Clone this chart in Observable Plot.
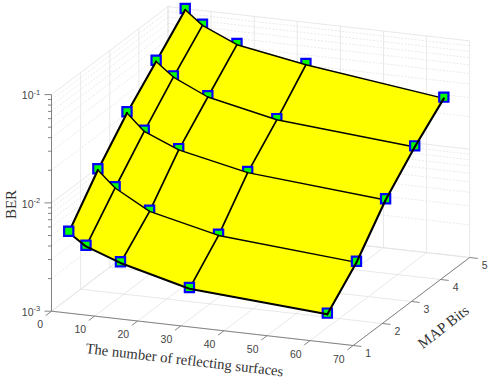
<!DOCTYPE html>
<html>
<head>
<meta charset="utf-8">
<script src="https://cdn.jsdelivr.net/npm/d3@7/dist/d3.min.js"></script>
<script src="https://cdn.jsdelivr.net/npm/@observablehq/plot@0.6/dist/plot.umd.min.js"></script>
<style>html,body{margin:0;padding:0;background:#fff}svg{display:block}</style>
</head>
<body>
<div id="chart"></div>
<script>
// Data
const surfaces = [4, 8, 16, 32, 64];
const mapBits = [1, 2, 3, 4, 5];
const berBits1 = [5.71e-3, 4.42e-3, 3.38e-3, 2.31e-3, 1.87e-3];
const berBits2 = [1.35e-2, 9.59e-3, 6.34e-3, 4.49e-3, 3.53e-3];
const berBits3 = [2.84e-2, 2.00e-2, 1.47e-2, 1.07e-2, 8.34e-3];
const berBits4 = [5.32e-2, 3.98e-2, 2.83e-2, 2.06e-2, 1.61e-2];
const berBits5 = [1.00e-1, 7.48e-2, 5.39e-2, 4.16e-2, 2.84e-2];
const berRows = [berBits1, berBits2, berBits3, berBits4, berBits5];

const xTicks = [0, 10, 20, 30, 40, 50, 60, 70];
const yTicks = [1, 2, 3, 4, 5];
const zDecades = [-3, -2, -1];
const zExponents = ["-3", "-2", "-1"];
const zMinors = [2, 3, 4, 5, 6, 7, 8, 9];

// Orthographic view of the 3-D box
const view = {ox: 51, oy: 310.7, xdx: 4.31, xdy: 0.49, ydx: 29.125, ydy: -22, zdy: -108.3};
const X = (x, y) => view.ox + x * view.xdx + (y - 1) * view.ydx;
const Y = (x, y, z) => view.oy + x * view.xdy + (y - 1) * view.ydy + (Math.log10(z) + 3) * view.zdy;
const P = (x, y, z, extra = {}) => ({px: X(x, y), py: Y(x, y, z), ...extra});
const V = (i, j, extra = {}) => P(surfaces[i], mapBits[j], berRows[j][i], extra);

const xMax = 70, yMin = 1, yMax = 5, zMin = 1e-3, zMax = 1e-1;
const minorZ = zDecades.flatMap((d) => zMinors.map((m) => m * 10 ** d)).filter((z) => z < zMax);
const majorZ = zDecades.map((d) => 10 ** d);

const seg = (a, b) => ({x1: a.px, y1: a.py, x2: b.px, y2: b.py});

// Grid
const gridMajor = [
  ...xTicks.map((x) => seg(P(x, yMin, zMin), P(x, yMax, zMin))),
  ...xTicks.map((x) => seg(P(x, yMax, zMin), P(x, yMax, zMax))),
  ...yTicks.map((y) => seg(P(0, y, zMin), P(xMax, y, zMin))),
  ...yTicks.map((y) => seg(P(0, y, zMin), P(0, y, zMax))),
  ...majorZ.map((z) => seg(P(0, yMin, z), P(0, yMax, z))),
  ...majorZ.map((z) => seg(P(0, yMax, z), P(xMax, yMax, z)))
];
const gridMinor = [
  ...minorZ.map((z) => seg(P(0, yMin, z), P(0, yMax, z))),
  ...minorZ.map((z) => seg(P(0, yMax, z), P(xMax, yMax, z)))
];

// Axes and ticks
const axes = [
  seg(P(0, yMin, zMin), P(xMax, yMin, zMin)),
  seg(P(xMax, yMin, zMin), P(xMax, yMax, zMin)),
  seg(P(0, yMin, zMin), P(0, yMin, zMax)),
  ...xTicks.map((x) => seg(P(x, yMin, zMin), P(x, yMin - 0.2, zMin))),
  ...yTicks.map((y) => seg(P(xMax, y, zMin), P(xMax + 1.9, y, zMin)))
];
const zMajorTicks = majorZ.map((z) => P(0, yMin, z));
const zMinorTicks = minorZ.map((z) => P(0, yMin, z));

const tickFont = {fontFamily: "Liberation Sans", fontSize: 10.5, fill: "#444", stroke: "none"};
const serif = {fontFamily: "Liberation Serif", fill: "#333", stroke: "none", fontSize: 15};
const marker = {x: "px", y: "py", symbol: "square", r: 5.2, fill: "#00ff00", stroke: "#0000ff", strokeWidth: 2.2};
const seg2 = {x1: "x1", y1: "y1", x2: "x2", y2: "y2"};
const meshDrop = 1.2;
const lastI = surfaces.length - 1;
const line = (data, strokeWidth) => Plot.line(data, {x: "px", y: "py", z: "id", stroke: "#000", strokeWidth, dy: meshDrop});
const range = (n) => d3.range(n);

// Painter's order, far row to near row: a row of cells covers the lower half
// of the markers behind it, and its own markers sit over the cells just painted.
const surfaceMarks = [];
surfaceMarks.push(Plot.dot(range(lastI).map((i) => V(i, 4)), marker));
for (let j = 3; j >= 0; --j) {
  const cells = range(lastI).flatMap((i) =>
    [[i, j], [i + 1, j], [i + 1, j + 1], [i, j + 1]].map(([a, b]) => V(a, b, {id: i})));
  surfaceMarks.push(Plot.line(cells, {x: "px", y: "py", z: "id", fill: "#ffff00", stroke: "#ffff00", strokeWidth: 0.5, dy: meshDrop}));
  surfaceMarks.push(line(surfaces.map((s, i) => V(i, j + 1, {id: 0})), 1.4));
  surfaceMarks.push(line(surfaces.flatMap((s, i) => i === lastI ? [] : [V(i, j, {id: i}), V(i, j + 1, {id: i})]).filter((d) => d.id !== 0), 1.7));
  surfaceMarks.push(line([V(0, j, {id: 0}), V(0, j + 1, {id: 0})], 2.1));
  if (j > 0) surfaceMarks.push(Plot.dot(range(lastI).map((i) => V(i, j)), marker));
}
// Near edges: markers first, then their edge lines, and the corner marker last.
surfaceMarks.push(Plot.dot(surfaces.slice(1).map((s, i) => V(i + 1, 0)), marker));
surfaceMarks.push(Plot.dot(mapBits.slice(1).map((b, j) => V(lastI, j + 1)), marker));
surfaceMarks.push(line(surfaces.map((s, i) => V(i, 0, {id: 0})), 2));
surfaceMarks.push(line(mapBits.map((b, j) => V(lastI, j, {id: 0})), 2.1));
surfaceMarks.push(Plot.dot([V(0, 0)], marker));

const chart = Plot.plot({
  width: 492, height: 379, margin: 0,
  x: {axis: null, domain: [0, 492], range: [0, 492]},
  y: {axis: null, domain: [0, 379], range: [0, 379]},
  style: {background: "#fff"},
  marks: [
    Plot.link(gridMinor, {...seg2, stroke: "#e4e4e4", strokeWidth: 0.8, strokeDasharray: "2,1.5"}),
    Plot.link(gridMajor, {...seg2, stroke: "#e2e2e2", strokeWidth: 0.8}),
    Plot.link(axes, {...seg2, stroke: "#777", strokeWidth: 0.9}),
    Plot.link(zMajorTicks, {x1: (d) => d.px - 7, x2: "px", y1: "py", y2: "py", stroke: "#777", strokeWidth: 0.9}),
    Plot.link(zMinorTicks, {x1: (d) => d.px - 3.5, x2: "px", y1: "py", y2: "py", stroke: "#777", strokeWidth: 0.9}),
    ...surfaceMarks,
    Plot.text(xTicks, {x: (t) => X(t, yMin), y: (t) => Y(t, yMin, zMin), text: (t) => String(t), textAnchor: "end", dx: -8.5, dy: 13.7, ...tickFont}),
    Plot.text(yTicks, {x: (t) => X(xMax, t), y: (t) => Y(xMax, t, zMin), text: (t) => String(t), dx: 15, dy: 8, ...tickFont}),
    Plot.text(zDecades, {x: () => X(0, yMin), y: (d) => Y(0, yMin, 10 ** d), text: () => "10", textAnchor: "end", dx: -18, dy: 1.5, ...tickFont}),
    Plot.text(zDecades, {x: () => X(0, yMin), y: (d) => Y(0, yMin, 10 ** d), text: (d, i) => zExponents[i], textAnchor: "start", dx: -18, dy: -2.5, ...tickFont, fontSize: 7.5}),
    Plot.text(["BER"], {x: () => 11, y: () => 204, text: (d) => d, rotate: -90, ...serif}),
    Plot.text(["The number of reflecting surfaces"], {x: () => 184, y: () => 359.5, text: (d) => d, rotate: 6.7, ...serif, fontSize: 14.7}),
    Plot.text(["MAP Bits"], {x: () => 443, y: () => 326.5, text: (d) => d, rotate: -38, ...serif})
  ]
});
document.getElementById("chart").appendChild(chart);
</script>
</body>
</html>
